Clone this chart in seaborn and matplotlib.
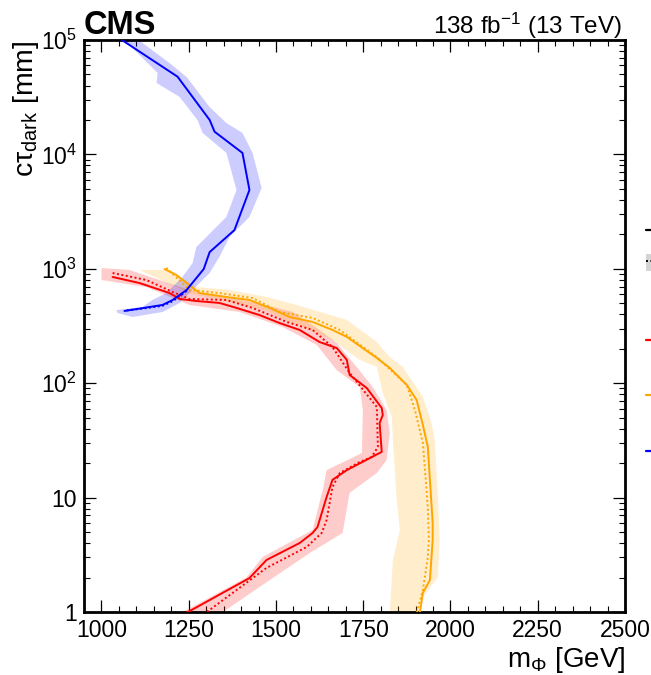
import matplotlib
matplotlib.use("Agg")
import matplotlib.pyplot as plt
import pandas as pd
import seaborn as sns
from matplotlib.lines import Line2D
from matplotlib.patches import Patch
from matplotlib.ticker import FixedLocator, FixedFormatter, MultipleLocator, LogLocator, NullFormatter

# ---- axes ----
mass_ticks = [1000, 1250, 1500, 1750, 2000, 2250, 2500]
ctau_ticks = [1, 10, 100, 1000, 1e4, 1e5]
ctau_tick_labels = ["1", "10", "$10^{2}$", "$10^{3}$", "$10^{4}$", "$10^{5}$"]

# ---- red model: observed, expected, expected +-1 sd band edges ----
red_obs_m = [1032, 1109, 1195, 1224, 1272, 1338, 1387, 1453, 1510, 1568, 1625, 1674, 1703, 1711,
             1760, 1803, 1806, 1797, 1803, 1703, 1662, 1645, 1619, 1605, 1568, 1473, 1424, 1240]
red_obs_ct = [848, 751, 614, 545, 523, 503, 455, 394, 336, 292, 229, 203, 160, 118,
              90.8, 60.7, 52.7, 44.9, 25.1, 17.4, 14.3, 10.1, 5.53, 4.91, 4.01, 2.85, 1.98, 0.97]
red_exp_m = [1032, 1129, 1204, 1252, 1358, 1433, 1531, 1605, 1662, 1711, 1789, 1792, 1774, 1740,
             1683, 1662, 1645, 1631, 1588, 1473, 1296]
red_exp_ct = [919, 798, 627, 545, 534, 455, 343, 292, 207, 123, 61.9, 27.7, 22.6, 20.5,
              16.4, 12.4, 6.37, 4.91, 3.70, 2.43, 0.97]
red_hi_m = [1000, 1080, 1166, 1281, 1424, 1548, 1617, 1674, 1731, 1777, 1817, 1826, 1817, 1789,
            1711, 1691, 1597, 1482, 1342]
red_hi_ct = [1016, 977, 798, 614, 520, 420, 304, 224, 139, 92.7, 58.3, 36.7, 21.3, 16.4,
             11.0, 4.91, 3.28, 1.90, 0.97]
red_lo_m = [1000, 1129, 1252, 1396, 1519, 1617, 1674, 1740, 1749, 1746, 1645, 1634, 1605, 1462,
            1415, 1225]
red_lo_ct = [798, 693, 483, 419, 310, 216, 130, 92.7, 58.3, 24.5, 17.4, 11.7, 5.21, 3.03,
             2.0, 0.97]

# ---- orange model ----
orange_obs_m = [1181, 1215, 1244, 1281, 1358, 1424, 1482, 1539, 1605, 1662, 1703, 1789, 1826, 1875,
                1903, 1921, 1935, 1949, 1949, 1941, 1921, 1912]
orange_obs_ct = [995, 882, 751, 614, 567, 534, 455, 379, 343, 292, 254, 166, 136, 96.4,
                 71.3, 43.1, 27.7, 6.0, 4.26, 1.90, 1.47, 0.97]
orange_exp_m = [1186, 1252, 1338, 1433, 1510, 1605, 1683, 1789, 1875, 1898, 1921, 1935, 1938,
                1935, 1921, 1903]
orange_exp_ct = [1020, 653, 614, 555, 419, 372, 292, 169, 96.4, 58.3, 30.0, 8.3, 4.3,
                 3.0, 1.56, 0.97]
orange_hi_m = [1109, 1195, 1272, 1367, 1473, 1559, 1703, 1789, 1826, 1863, 1921, 1946, 1955, 1964,
               1969, 1964, 1921, 1908]
orange_hi_ct = [977, 977, 693, 653, 567, 483, 357, 229, 169, 139, 75.7, 44.9, 31.0, 10.1,
                4.26, 2.02, 1.35, 0.97]
orange_lo_m = [1109, 1252, 1338, 1473, 1531, 1568, 1662, 1740, 1789, 1806, 1832, 1835, 1846, 1855,
               1835, 1826]
orange_lo_ct = [977, 614, 534, 430, 350, 320, 239, 160, 139, 82.1, 50.7, 31.9, 9.5, 5.21,
                2.85, 0.97]

# ---- blue model ----
blue_obs_m = [1048, 1218, 1310, 1324, 1404, 1424, 1381, 1310, 1293, 1244, 1204, 1175, 1066]
blue_obs_ct = [1.05e5, 47800, 20000, 15800, 10300, 4890, 2180, 1400, 995, 653, 534, 483, 428]
blue_exp_m = [1244, 1204, 1175, 1120, 1070]
blue_exp_ct = [640, 520, 475, 450, 432]
blue_lo_m = [1052, 1161, 1158, 1224, 1275, 1290, 1358, 1387, 1358, 1272, 1261, 1232, 1186, 1146,
             1118, 1043]
blue_lo_ct = [1.1e5, 51500, 42100, 31800, 20000, 15400, 10300, 4890, 2840, 1550, 1120, 848, 614, 534,
              464, 436]
blue_hi_m = [1088, 1195, 1244, 1310, 1358, 1404, 1433, 1459, 1424, 1367, 1338, 1310, 1261, 1224,
             1175, 1089, 1046]
blue_hi_ct = [1.1e5, 62900, 47500, 25900, 18800, 15400, 10300, 5080, 2840, 1900, 1270, 919, 653, 503,
              419, 379, 411]

models = [
    ("#ff0000", red_obs_m, red_obs_ct, red_exp_m, red_exp_ct, red_hi_m, red_hi_ct, red_lo_m, red_lo_ct),
    ("#ffa500", orange_obs_m, orange_obs_ct, orange_exp_m, orange_exp_ct,
     orange_hi_m, orange_hi_ct, orange_lo_m, orange_lo_ct),
    ("#0000ff", blue_obs_m, blue_obs_ct, blue_exp_m, blue_exp_ct, blue_hi_m, blue_hi_ct, blue_lo_m, blue_lo_ct),
]

sns.set_theme(style="ticks")
plt.rcParams["font.family"] = ["Liberation Sans", "DejaVu Sans"]
plt.rcParams["mathtext.fontset"] = "custom"
plt.rcParams["mathtext.rm"] = "Liberation Sans"
plt.rcParams["mathtext.it"] = "Liberation Sans:italic"
plt.rcParams["mathtext.bf"] = "Liberation Sans:bold"

fig = plt.figure(figsize=(6.51, 6.75), dpi=100)
ax = fig.add_axes([84 / 651, 1 - 612 / 675, 541 / 651, 572 / 675])
ax.set_yscale("log")

# bands first, then lines on top
for color, om, oc, em, ec, hm, hc, lm, lc in models:
    ax.fill(list(hm) + list(lm[::-1]), list(hc) + list(lc[::-1]),
            color=color, alpha=0.2, lw=0, zorder=1)

for color, om, oc, em, ec, hm, hc, lm, lc in models:
    sns.lineplot(data=pd.DataFrame({"m": em, "ct": ec}), x="m", y="ct", sort=False,
                 estimator=None, color=color, lw=1.4, linestyle=(0, (1, 1.3)), ax=ax, zorder=3)
    sns.lineplot(data=pd.DataFrame({"m": om, "ct": oc}), x="m", y="ct", sort=False,
                 estimator=None, color=color, lw=1.4, ax=ax, zorder=4)

ax.set_xlim(950, 2500)
ax.set_ylim(1, 1e5)

ax.xaxis.set_major_locator(FixedLocator(mass_ticks))
ax.xaxis.set_minor_locator(MultipleLocator(50))
ax.yaxis.set_major_locator(FixedLocator(ctau_ticks))
ax.yaxis.set_major_formatter(FixedFormatter(ctau_tick_labels))
ax.yaxis.set_minor_locator(LogLocator(base=10, subs=range(2, 10)))
ax.yaxis.set_minor_formatter(NullFormatter())

ax.tick_params(which="both", direction="in", top=True, right=True, color="black",
               labelsize=16.5, labelcolor="black")
ax.tick_params(which="major", length=8.6, width=0.9, pad=5)
ax.tick_params(which="minor", length=4.3, width=0.8)
for s in ax.spines.values():
    s.set_linewidth(2)
    s.set_color("black")
ax.grid(False)

ax.set_xlabel(r"m$_{\Phi}$ [GeV]", fontsize=20, loc="right", color="black")
ax.xaxis.set_label_coords(1.0, -0.058)
ax.set_ylabel("c\u03c4$_{\\mathrm{dark}}$ [mm]", fontsize=20.5, loc="top", color="black")
ax.yaxis.set_label_coords(-0.080, 1.0)

fig.text(84 / 651, 1 - 34 / 675, "CMS", fontsize=23.5, fontweight="bold", ha="left",
         va="baseline", color="black")
fig.text(622 / 651, 1 - 34 / 675, r"138 fb$^{-1}$ (13 TeV)", fontsize=17.5, ha="right",
         va="baseline", color="black")

# legend keys along the right margin (entry texts lie beyond the figure edge)
legend_handles = [
    Line2D([], [], color="black", lw=1.6),
    (Patch(facecolor="#d4d4d4", edgecolor="none"),
     Line2D([], [], color="black", lw=1.4, linestyle=(0, (1, 1.3)))),
    Line2D([], [], color="#ff0000", lw=1.6),
    Line2D([], [], color="#ffa500", lw=1.6),
    Line2D([], [], color="#0000ff", lw=1.6),
]
legend_y = [232, 263, 341, 396, 452]
for handle, ypx in zip(legend_handles, legend_y):
    fig.legend([handle], [""], loc="center left",
               bbox_to_anchor=(646 / 651, 1 - ypx / 675), frameon=False,
               borderpad=0, borderaxespad=0, handlelength=1.6, handleheight=1.2,
               handletextpad=0, fontsize=12)

fig.savefig("out.png", dpi=100)
